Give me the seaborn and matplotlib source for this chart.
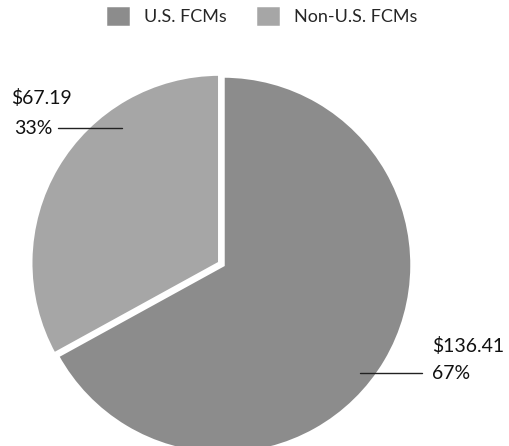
import matplotlib
matplotlib.use("Agg")
import matplotlib.pyplot as plt
import seaborn as sns

labels = ["U.S. FCMs", "Non-U.S. FCMs"]
amounts = [136.41, 67.19]
amount_labels = ["$136.41", "$67.19"]
pct_labels = ["67%", "33%"]
colors = ["#8c8c8c", "#a6a6a6"]


def main():
    sns.set_theme(style="white")
    plt.rcParams["font.family"] = ["Lato", "DejaVu Sans"]

    fig = plt.figure(figsize=(5.09, 4.46), dpi=100)
    ax = fig.add_axes([0, 0, 1, 1])

    wedges, _ = ax.pie(amounts, colors=colors, startangle=90, counterclock=False,
                       explode=[0, 0.02], radius=1.0,
                       wedgeprops=dict(edgecolor="white", linewidth=2.5))

    # pixel layout: pie center ~ (223, 265), radius ~189px
    ax.set_xlim(-223 / 189, (509 - 223) / 189)
    ax.set_ylim(-(446 - 265) / 189, 265 / 189)
    ax.set_aspect("equal")
    ax.axis("off")

    # Non-U.S. label (left)
    ax.plot([-0.873, -0.534], [0.725, 0.725], color="#222222", lw=1)
    ax.text(-0.90, 0.722, pct_labels[1], ha="right", va="center", fontsize=14, color="#111111")
    ax.text(-1.12, 0.885, amount_labels[1], ha="left", va="center", fontsize=14, color="#111111")

    # U.S. label (right)
    ax.plot([0.725, 1.053], [-0.57, -0.57], color="#222222", lw=1)
    ax.text(1.105, -0.572, pct_labels[0], ha="left", va="center", fontsize=14, color="#111111")
    ax.text(1.105, -0.43, amount_labels[0], ha="left", va="center", fontsize=14, color="#111111")

    fig.legend(wedges, labels, loc="upper center", bbox_to_anchor=(0.513, 1.025), ncol=2,
               frameon=False, fontsize=13, handlelength=1.45, handleheight=1.45,
               columnspacing=1.6, handletextpad=0.7)

    fig.savefig("out.png", dpi=100)


if __name__ == "__main__":
    main()
